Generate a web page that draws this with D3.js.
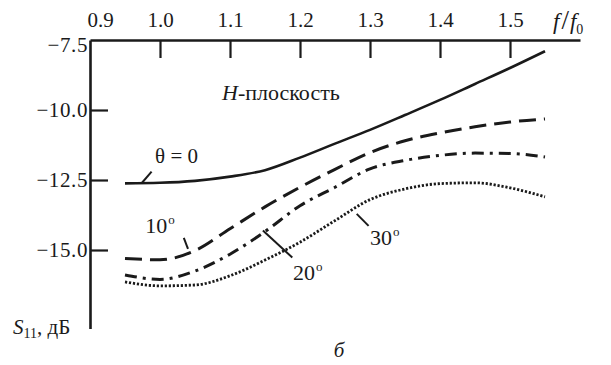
<!DOCTYPE html>
<html><head><meta charset="utf-8">
<script src="https://cdn.jsdelivr.net/npm/d3@7"></script>
</head>
<body style="margin:0">
<svg id="c" width="611" height="365">
  <text id="ytitle" x="13" y="334" font-size="21" font-family="Liberation Serif" fill="#1a1a1a"><tspan font-style="italic">S</tspan><tspan font-size="14" dy="4">11</tspan><tspan dy="-4">, дБ</tspan></text>
  <text id="caption" x="339" y="357" font-size="21" font-family="Liberation Serif" font-style="italic" text-anchor="middle" fill="#1a1a1a">б</text>
</svg>
<script>
// ---- data ----
const freq = [0.95, 1.0, 1.05, 1.1, 1.15, 1.2, 1.25, 1.3, 1.35, 1.4, 1.45, 1.5, 1.55];
const theta0  = [-12.62, -12.6, -12.53, -12.38, -12.15, -11.7, -11.2, -10.71, -10.18, -9.64, -9.07, -8.5, -7.9];
const theta10 = [-15.3, -15.35, -15.02, -14.24, -13.46, -12.76, -12.12, -11.52, -11.1, -10.82, -10.6, -10.43, -10.32];
const theta20 = [-15.89, -16.05, -15.75, -15.15, -14.34, -13.42, -12.76, -12.1, -11.8, -11.62, -11.54, -11.55, -11.68];
const theta30 = [-16.14, -16.28, -16.25, -15.92, -15.36, -14.72, -13.95, -13.2, -12.82, -12.63, -12.6, -12.78, -13.1];
const xTicks = [0.9, 1.0, 1.1, 1.2, 1.3, 1.4, 1.5];
const yTicks = [-7.5, -10.0, -12.5, -15.0];
const seriesNames = ["θ = 0", "10", "20", "30"];

// ---- layout ----
const svg = d3.select("#c");
const x = d3.scaleLinear().domain([0.9, 1.6]).range([90, 580]);
const y = d3.scaleLinear().domain([-7.5, -17.8]).range([40, 328.4]);
const FS = 21;
const SERIF = "Liberation Serif";
const INK = "#1a1a1a";
const fmt = d3.format(".1f");

// top axis ticks and labels
const gx = svg.append("g").attr("transform", `translate(0,${y(-7.5)})`)
  .call(d3.axisTop(x).tickValues(xTicks).tickFormat(fmt).tickSize(-18).tickSizeOuter(0).tickPadding(13));
gx.attr("font-family", SERIF).attr("font-size", FS);
gx.select(".domain").attr("stroke", INK).attr("stroke-width", 2.6);
gx.selectAll(".tick line").attr("stroke", INK).attr("stroke-width", 2.2);
gx.selectAll(".tick text").attr("font-size", FS).attr("fill", INK).attr("font-family", SERIF);
gx.selectAll(".tick").filter(d => d === 0.9).select("line").remove();
gx.selectAll(".tick").filter(d => d === 0.9).select("text").attr("x", 10);

// left axis
const gy = svg.append("g").attr("transform", `translate(${x(0.9)},0)`)
  .call(d3.axisLeft(y).tickValues(yTicks).tickFormat(fmt).tickSize(-18).tickSizeOuter(0).tickPadding(2));
gy.attr("font-family", SERIF).attr("font-size", FS);
gy.select(".domain").attr("stroke", INK).attr("stroke-width", 2.6);
gy.selectAll(".tick line").attr("stroke", INK).attr("stroke-width", 2.2);
gy.selectAll(".tick text").attr("font-size", FS).attr("fill", INK).attr("font-family", SERIF).attr("letter-spacing", 0.6);
gy.selectAll(".tick").filter(d => d === -7.5).select("line").remove();
gy.selectAll(".tick").filter(d => d === -7.5).select("text").attr("dy", "0.55em");

// curves
const line = d3.line().x((d, i) => x(freq[i])).y(d => y(d)).curve(d3.curveMonotoneX);
const styles = [
  {data: theta0,  dash: null,          w: 2.6},
  {data: theta10, dash: "17,8",        w: 3.0},
  {data: theta20, dash: "12,6,3,6",    w: 3.0},
  {data: theta30, dash: "2.2,1.8",     w: 2.8}
];
styles.forEach(s => {
  svg.append("path").attr("d", line(s.data)).attr("fill", "none")
    .attr("stroke", INK).attr("stroke-width", s.w)
    .attr("stroke-dasharray", s.dash);
});

// annotations (in data coordinates)
function txt(px, py, size) {
  return svg.append("text").attr("x", px).attr("y", py).attr("font-size", size)
    .attr("font-family", SERIF).attr("fill", INK);
}
function leader(f1, v1, f2, v2) {
  svg.append("line").attr("x1", x(f1)).attr("y1", y(v1)).attr("x2", x(f2)).attr("y2", y(v2))
    .attr("stroke", INK).attr("stroke-width", 2);
}
function degLabel(f, v, num) {
  const t = txt(x(f), y(v), FS + 1);
  t.append("tspan").text(num);
  t.append("tspan").text("o").attr("font-size", 13).attr("dy", -9).attr("dx", 1);
}

const ht = txt(x(1.0886), y(-9.643), FS + 1);
ht.append("tspan").text("H").attr("font-style", "italic");
ht.append("tspan").text("-плоскость");

txt(x(0.993), y(-11.893), FS).text(seriesNames[0]);
leader(0.974, -12.607, 0.988, -12.2);

degLabel(0.979, -14.393, seriesNames[1]);
leader(1.034, -14.57, 1.04, -14.96);

degLabel(1.19, -16.07, seriesNames[2]);
leader(1.147, -14.3, 1.189, -15.27);

degLabel(1.3, -14.82, seriesNames[3]);
leader(1.281, -13.71, 1.298, -14.14);

// x-axis title
const ft = txt(553, 29, FS + 2);
ft.append("tspan").text("f").attr("font-style", "italic");
ft.append("tspan").text("/").attr("dx", 2).attr("font-size", FS + 6);
ft.append("tspan").text("f").attr("font-style", "italic").attr("dx", 1);
ft.append("tspan").text("0").attr("font-size", 14).attr("dy", 5);
</script></body></html>
